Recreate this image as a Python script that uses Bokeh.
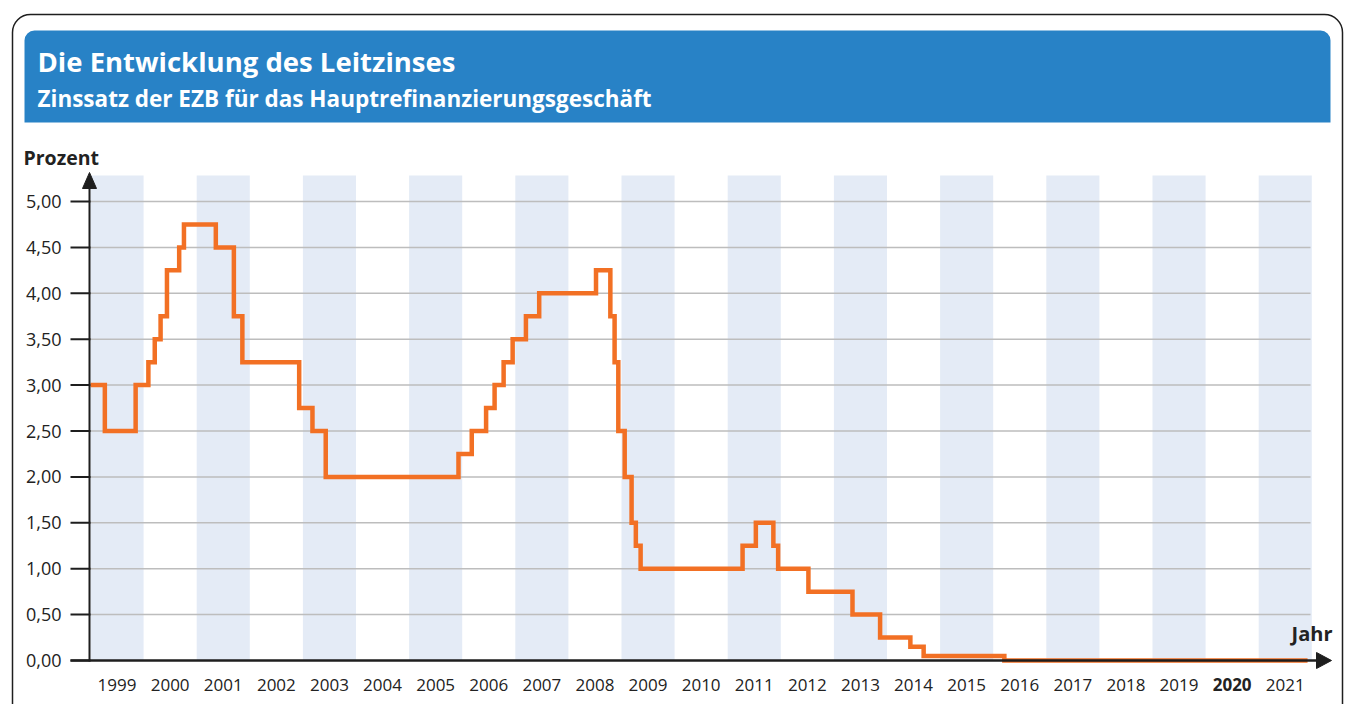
from bokeh.plotting import figure
from bokeh.models import Range1d, BoxAnnotation
from bokeh.core.properties import value
from bokeh.embed import file_html
from bokeh.resources import INLINE

# ---- data ----
TITLE = "Die Entwicklung des Leitzinses"
SUBTITLE = "Zinssatz der EZB für das Hauptrefinanzierungsgeschäft"
Y_LABEL = "Prozent"
X_LABEL = "Jahr"
years = list(range(1999, 2022))
bold_year = 2020
y_ticks = [0.0, 0.5, 1.0, 1.5, 2.0, 2.5, 3.0, 3.5, 4.0, 4.5, 5.0]
y_tick_labels = ["0,00", "0,50", "1,00", "1,50", "2,00", "2,50", "3,00", "3,50", "4,00", "4,50", "5,00"]

# change dates as fractional years, rate in percent
change_dates = [1999.00, 1999.27, 1999.85, 2000.09, 2000.21, 2000.32, 2000.44, 2000.67, 2000.76,
                2001.36, 2001.70, 2001.86, 2002.93, 2003.18, 2003.43, 2005.93, 2006.18,
                2006.45, 2006.61, 2006.78, 2006.95, 2007.20, 2007.45, 2008.52, 2008.79,
                2008.87, 2008.94, 2009.06, 2009.19, 2009.27, 2009.36, 2011.28, 2011.53,
                2011.86, 2011.95, 2012.52, 2013.35, 2013.87, 2014.44, 2014.69, 2016.21, 2021.92]
rates = [3.00, 2.50, 3.00, 3.25, 3.50, 3.75, 4.25, 4.50, 4.75,
         4.50, 3.75, 3.25, 2.75, 2.50, 2.00, 2.25, 2.50,
         2.75, 3.00, 3.25, 3.50, 3.75, 4.00, 4.25, 3.75,
         3.25, 2.50, 2.00, 1.50, 1.25, 1.00, 1.25, 1.50,
         1.25, 1.00, 0.75, 0.50, 0.25, 0.15, 0.05, 0.00, 0.00]

# ---- layout (page pixels -> data) ----
W, H = 1347, 704
X0, YW = 90.0, 53.1       # page x of 1999 start, px per year
Y0, VH = 660.0, 91.8      # page y of 0 %, px per percent


def px(X):
    return 1999 + (X - X0) / YW


def py(Y):
    return (Y0 - Y) / VH


p = figure(width=W, height=H, output_backend="svg", toolbar_location=None,
           x_range=Range1d(px(0), px(W)), y_range=Range1d(py(H), py(0)),
           min_border=0, outline_line_color=None)
p.xaxis.visible = False
p.yaxis.visible = False
p.xgrid.visible = False
p.ygrid.visible = False
p.background_fill_color = "white"
p.border_fill_color = "white"

FONT = value("Open Sans")
INK = "#1e1e1e"

# outer frame and header
p.add_layout(BoxAnnotation(left=px(12), right=px(1342), top=py(14), bottom=py(740),
                           fill_alpha=0, line_color=INK, line_alpha=1, line_width=1.5,
                           border_radius=18, level="underlay"))
p.add_layout(BoxAnnotation(left=px(24), right=px(1330), top=py(30), bottom=py(122),
                           fill_color="#2882C6", fill_alpha=1, line_alpha=0,
                           border_radius=(10, 10, 0, 0), level="underlay"))
p.text(x=[px(37)], y=[py(61)], text=[TITLE], text_color="white", text_font=FONT,
       text_font_style="bold", text_font_size="27.5px", text_baseline="middle")
p.text(x=[px(37)], y=[py(98)], text=[SUBTITLE], text_color="white", text_font=FONT,
       text_font_style="bold", text_font_size="22.5px", text_baseline="middle")

# year bands
band_years = [y for y in years if (y - 1999) % 2 == 0]
p.quad(left=band_years, right=[y + 1 for y in band_years], bottom=0, top=py(175),
       fill_color="#E4EBF6", line_color=None)

# gridlines and ticks
p.segment(x0=[px(90)] * len(y_ticks[1:]), x1=[px(1310)] * len(y_ticks[1:]),
          y0=y_ticks[1:], y1=y_ticks[1:], line_color="#BDBDBD", line_width=1.5)
p.segment(x0=[px(70)] * len(y_ticks), x1=[px(90)] * len(y_ticks),
          y0=y_ticks, y1=y_ticks, line_color=INK, line_width=2)
p.text(x=[px(61)] * len(y_ticks), y=y_ticks, text=y_tick_labels, text_font=FONT,
       text_font_size="18px", text_align="right", text_baseline="middle", text_color="#222222")

# data line
p.step(x=change_dates, y=rates, mode="after", line_color="#F27024", line_width=4.5,
       line_join="miter")

# axes
p.segment(x0=[px(89)], x1=[px(89)], y0=[py(661)], y1=[py(182)], line_color=INK, line_width=2)
p.segment(x0=[px(70)], x1=[px(1318)], y0=[0], y1=[0], line_color=INK, line_width=2.5)
p.patches(xs=[[px(82), px(96), px(89)], [px(1316), px(1316), px(1331)]],
          ys=[[py(188), py(188), py(172)], [py(652), py(668), py(660)]],
          fill_color=INK, line_color=INK)

# axis titles
p.text(x=[px(23)], y=[py(157)], text=[Y_LABEL], text_font=FONT, text_font_style="bold",
       text_font_size="19.5px", text_baseline="middle", text_color="#222222")
p.text(x=[px(1332)], y=[py(633)], text=[X_LABEL], text_font=FONT, text_font_style="bold",
       text_font_size="20px", text_baseline="middle", text_align="right", text_color="#222222")

# year labels
norm = [y for y in years if y != bold_year]
p.text(x=[y + 0.5 for y in norm], y=[py(684)] * len(norm), text=[str(y) for y in norm],
       text_font=FONT, text_font_size="17px", text_align="center", text_baseline="middle",
       text_color="#222222")
p.text(x=[bold_year + 0.5], y=[py(684)], text=[str(bold_year)], text_font=FONT,
       text_font_style="bold", text_font_size="17px", text_align="center",
       text_baseline="middle", text_color="#222222")

open("out.html", "w").write(file_html(p, INLINE))
